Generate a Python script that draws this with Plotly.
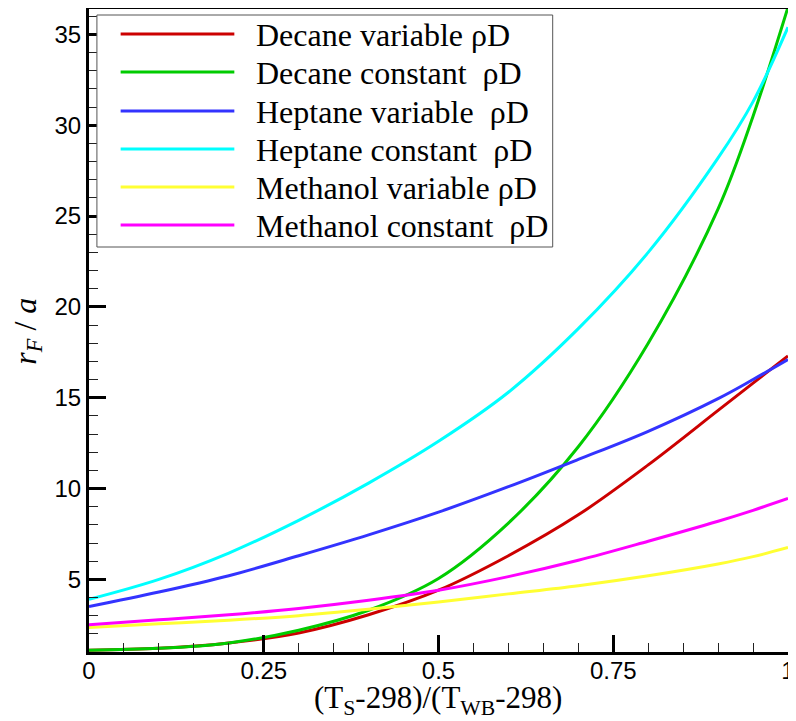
import plotly.graph_objects as go

# ---- data ----
x_vals = [0, 0.1, 0.2, 0.3, 0.4, 0.5, 0.6, 0.7, 0.8, 0.9, 0.95, 1.0]
decane_variable = [1.1, 1.2, 1.5, 2.05, 3.05, 4.4, 6.3, 8.55, 11.3, 14.3, 15.8, 17.3]
decane_constant = [1.1, 1.2, 1.5, 2.2, 3.3, 5.05, 8.1, 12.3, 18.0, 25.4, 30.5, 36.5]
heptane_variable = [3.5, 4.3, 5.2, 6.3, 7.45, 8.7, 10.1, 11.6, 13.15, 14.95, 16.0, 17.1]
heptane_constant = [3.9, 5.0, 6.45, 8.25, 10.3, 12.6, 15.3, 18.8, 23.0, 28.2, 31.3, 35.4]
methanol_variable = [2.35, 2.55, 2.75, 3.0, 3.35, 3.75, 4.2, 4.65, 5.2, 5.85, 6.25, 6.75]
methanol_constant = [2.5, 2.77, 3.05, 3.4, 3.85, 4.4, 5.15, 6.05, 7.1, 8.2, 8.8, 9.45]

names = ["Decane variable ρD", "Decane constant \u00a0ρD", "Heptane variable \u00a0ρD",
         "Heptane constant \u00a0ρD", "Methanol variable ρD", "Methanol constant \u00a0ρD"]
series = [decane_variable, decane_constant, heptane_variable,
          heptane_constant, methanol_variable, methanol_constant]
colors = ["#cc0000", "#00cc00", "#3333ff", "#00ffff", "#ffff33", "#ff00ff"]

x_tickvals = [0, 0.25, 0.5, 0.75, 1]
x_ticktext = ["0", "0.25", "0.5", "0.75", "1"]

# the page body adds an 8px margin; the figure fills the body width (780px)
OFF = 8
W, H = 796 - 2 * OFF, 721 - OFF
ML, MR, MT = 89 - OFF, 0, 1
MB = H - (652 - OFF)
PW, PH = W - ML - MR, H - MT - MB

SERIF = "Liberation Serif, Times New Roman, serif"
SANS = "Liberation Sans, Arial, sans-serif"

# page pixel -> paper fraction (x measured on the reference, compressed to fit)
X0_PAGE, X1_PAGE = 89, 796

def px_x(p):
    return (p - X0_PAGE) / (X1_PAGE - X0_PAGE)

def px_y(p):
    return (H - MB - (p - OFF)) / PH

fig = go.Figure()
for name, ys, col in zip(names, series, colors):
    fig.add_trace(go.Scatter(
        x=x_vals, y=ys, mode="lines", name=name, showlegend=False,
        line=dict(color=col, width=3, shape="spline", smoothing=1.0),
    ))

axis_common = dict(
    showline=True, linewidth=3, linecolor="black", mirror=True,
    showgrid=False, zeroline=False, automargin=False,
    ticks="inside", ticklen=17, tickwidth=3, tickcolor="black",
    tickfont=dict(family=SANS, size=24, color="black"),
    ticklabeloverflow="allow",
)

fig.update_xaxes(
    range=[0, 1], tickvals=x_tickvals, ticktext=x_ticktext,
    minor=dict(ticks="inside", ticklen=9, tickwidth=1, tickcolor="#222",
               dtick=0.05, tick0=0, showgrid=False),
    ticklabelstandoff=-5,
    **axis_common,
)
fig.update_yaxes(
    range=[1, 36.4], tick0=0, dtick=5,
    minor=dict(ticks="inside", ticklen=9, tickwidth=1, tickcolor="#222",
               dtick=1, tick0=0, showgrid=False),
    ticklabelstandoff=0,
    **axis_common,
)

# ---- legend box drawn like the reference (long line samples) ----
shapes = [dict(type="rect", xref="paper", yref="paper",
               x0=px_x(97), x1=px_x(558), y0=px_y(247), y1=px_y(15),
               line=dict(color="#555", width=1), fillcolor="white", layer="above")]
annotations = []
row_y = [34, 72, 111, 149, 187, 225]
for name, col, ry in zip(names, colors, row_y):
    shapes.append(dict(type="line", xref="paper", yref="paper",
                       x0=px_x(121), x1=px_x(236), y0=px_y(ry), y1=px_y(ry),
                       line=dict(color=col, width=3), layer="above"))
    annotations.append(dict(xref="paper", yref="paper", x=px_x(256), y=px_y(ry + 1),
                            xanchor="left", yanchor="middle", showarrow=False,
                            text=name,
                            font=dict(family=SERIF, size=32, color="black")))

# axis titles
annotations.append(dict(xref="paper", yref="paper", x=px_x(442), y=px_y(700),
                        xanchor="center", yanchor="middle", showarrow=False,
                        text="(T<sub>S</sub>-298)/(T<sub>WB</sub>-298)",
                        font=dict(family=SERIF, size=31, color="black")))
annotations.append(dict(xref="paper", yref="paper", x=px_x(26), y=px_y(331),
                        xanchor="center", yanchor="middle", showarrow=False,
                        textangle=-90,
                        text="<i>r<sub>F</sub></i> / <i>a</i>",
                        font=dict(family=SERIF, size=32, color="black")))

fig.update_layout(
    width=W, height=H, autosize=False,
    margin=dict(l=ML, r=MR, t=MT, b=MB, autoexpand=False),
    paper_bgcolor="white", plot_bgcolor="white",
    shapes=shapes, annotations=annotations,
    showlegend=False,
)

fig.write_html("out.html")
